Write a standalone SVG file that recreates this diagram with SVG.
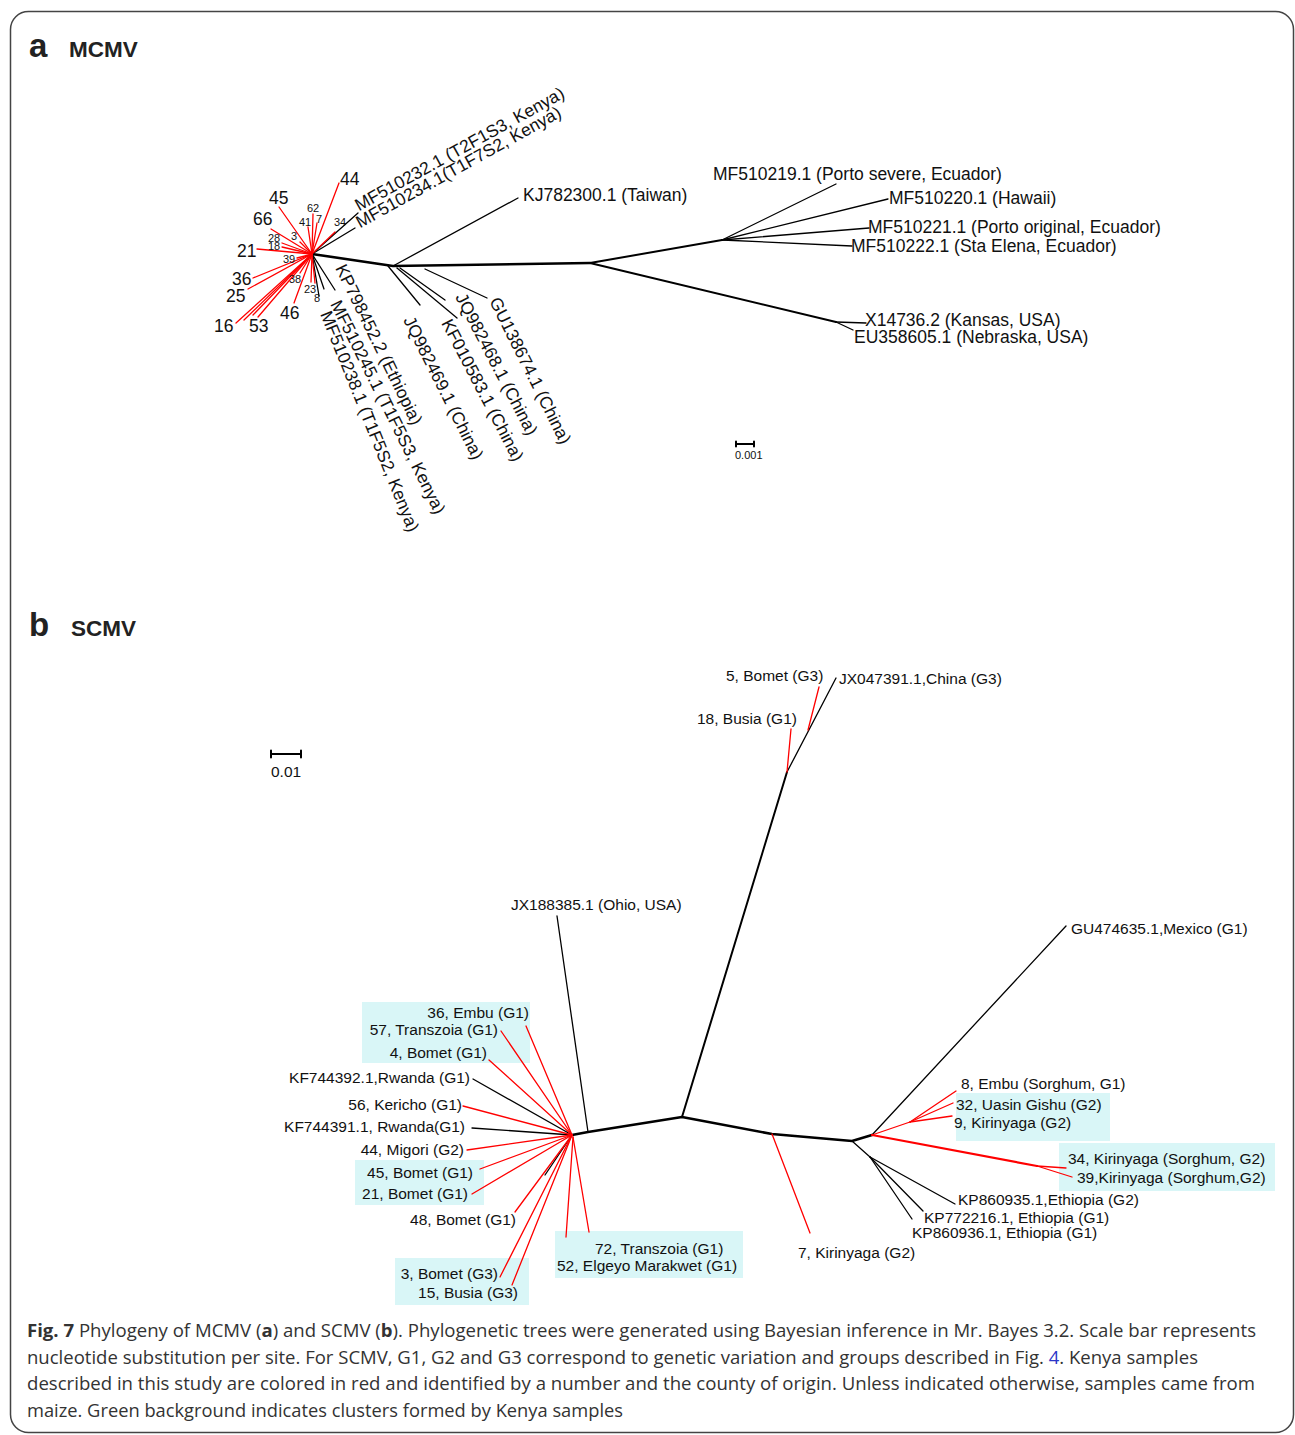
<svg xmlns="http://www.w3.org/2000/svg" width="1295" height="1435" viewBox="0 0 1295 1435">
<style>
.b{stroke:#000;stroke-width:1.3;fill:none;stroke-linecap:round}
.bt{stroke:#000;stroke-width:2.6;fill:none;stroke-linecap:round;stroke-linejoin:round}
.bm{stroke:#000;stroke-width:2;fill:none;stroke-linecap:round}
.r{stroke:#f00;stroke-width:1.3;fill:none;stroke-linecap:round}
.rt{stroke:#f00;stroke-width:2.2;fill:none;stroke-linecap:round}
text{font-family:"Liberation Sans",Arial,sans-serif;fill:#111}
.lm{font-size:17.5px}
.ls{font-size:15.5px}
.nb{font-size:17.5px}
.ns{font-size:11px}
.box{fill:#d9f6f7}
.cap{font-family:"Open Sans","Noto Sans",sans-serif;font-size:17.5px;fill:#333}
.pl{font-weight:bold;fill:#222}
</style>
<rect x="10.5" y="11.5" width="1283" height="1421" rx="18" fill="#fff" stroke="#444" stroke-width="1.5"/>

<!-- panel labels -->
<g id="panel-a"><text class="pl" x="29" y="57" font-size="33">a</text><text class="pl" x="69" y="57" font-size="22.5">MCMV</text></g>
<g id="panel-b"><text class="pl" x="29" y="636" font-size="33">b</text><text class="pl" x="71" y="636" font-size="22.5">SCMV</text></g>

<!-- ============ MCMV connectors ============ -->
<g id="mcmv-connectors">
  <polyline class="bt" points="312,254 393,266 590,263"/>
  <line class="bm" x1="590" y1="263" x2="722" y2="240"/>
  <line class="bm" x1="590" y1="263" x2="836" y2="322"/>
  <line class="b" x1="722" y1="240" x2="836" y2="184"/>
  <line class="b" x1="722" y1="240" x2="888" y2="199"/>
  <line class="b" x1="722" y1="240" x2="869" y2="228"/>
  <line class="b" x1="722" y1="240" x2="852" y2="246"/>
  <line class="b" x1="836" y1="322" x2="866" y2="323"/>
  <line class="b" x1="836" y1="322" x2="853" y2="330"/>
  <line class="b" x1="393" y1="266" x2="518" y2="198"/>
  <line class="b" x1="388" y1="266" x2="420" y2="305"/>
  <line class="b" x1="397" y1="268" x2="457" y2="318"/>
  <line class="b" x1="400" y1="268" x2="445" y2="300"/>
  <line class="b" x1="425" y1="269" x2="487" y2="298"/>
  <line class="b" x1="312" y1="254" x2="358" y2="213"/>
  <line class="b" x1="312" y1="254" x2="355" y2="228"/>
  <line class="b" x1="312" y1="254" x2="335" y2="290"/>
  <line class="b" x1="312" y1="254" x2="324" y2="289"/>
  <line class="b" x1="312" y1="254" x2="319" y2="296"/>
  <line class="r" x1="312" y1="254" x2="339" y2="183"/>
  <line class="r" x1="312" y1="254" x2="279" y2="207"/>
  <line class="r" x1="312" y1="254" x2="313" y2="214"/>
  <line class="r" x1="312" y1="254" x2="317" y2="223"/>
  <line class="r" x1="312" y1="254" x2="308" y2="227"/>
  <line class="r" x1="312" y1="254" x2="335" y2="232"/>
  <line class="r" x1="312" y1="254" x2="300" y2="242"/>
  <line class="r" x1="312" y1="254" x2="282" y2="243"/>
  <line class="r" x1="312" y1="254" x2="282" y2="247"/>
  <line class="r" x1="312" y1="254" x2="271" y2="229"/>
  <line class="r" x1="312" y1="254" x2="257" y2="249"/>
  <line class="r" x1="312" y1="254" x2="297" y2="258"/>
  <line class="r" x1="312" y1="254" x2="253" y2="278"/>
  <line class="r" x1="312" y1="254" x2="248" y2="289"/>
  <line class="r" x1="312" y1="254" x2="300" y2="273"/>
  <line class="r" x1="312" y1="254" x2="311" y2="282"/>
  <line class="r" x1="312" y1="254" x2="315" y2="283"/>
  <line class="r" x1="312" y1="254" x2="294" y2="303"/>
  <line class="r" x1="312" y1="254" x2="236" y2="323"/>
  <line class="r" x1="312" y1="254" x2="244" y2="320"/>
  <line class="r" x1="312" y1="254" x2="253" y2="315"/>
  <line class="r" x1="312" y1="254" x2="258" y2="317"/>
</g>

<!-- ============ MCMV nodes ============ -->
<g id="mcmv-kj782300"><text class="lm" x="523" y="201">KJ782300.1 (Taiwan)</text></g>
<g id="mcmv-mf510219"><text class="lm" x="713" y="180">MF510219.1 (Porto severe, Ecuador)</text></g>
<g id="mcmv-mf510220"><text class="lm" x="889" y="204">MF510220.1 (Hawaii)</text></g>
<g id="mcmv-mf510221"><text class="lm" x="868" y="233">MF510221.1 (Porto original, Ecuador)</text></g>
<g id="mcmv-mf510222"><text class="lm" x="851" y="252">MF510222.1 (Sta Elena, Ecuador)</text></g>
<g id="mcmv-x14736"><text class="lm" x="865" y="326">X14736.2 (Kansas, USA)</text></g>
<g id="mcmv-eu358605"><text class="lm" x="854" y="343">EU358605.1 (Nebraska, USA)</text></g>
<g id="mcmv-mf510232"><text class="lm" transform="translate(359,211.5) rotate(-29)">MF510232.1 (T2F1S3, Kenya)</text></g>
<g id="mcmv-mf510234"><text class="lm" transform="translate(360,228.5) rotate(-29)">MF510234.1(T1F7S2, Kenya)</text></g>
<g id="mcmv-kp798452"><text class="lm" transform="translate(335,268) rotate(64)">KP798452.2 (Ethiopia)</text></g>
<g id="mcmv-mf510245"><text class="lm" transform="translate(330,304) rotate(63.5)">MF510245.1 (T1F5S3, Kenya)</text></g>
<g id="mcmv-mf510238"><text class="lm" transform="translate(320,314) rotate(68)">MF510238.1 (T1F5S2, Kenya)</text></g>
<g id="mcmv-jq982469"><text class="lm" transform="translate(403,320) rotate(63.5)">JQ982469.1 (China)</text></g>
<g id="mcmv-kf010583"><text class="lm" transform="translate(441,323) rotate(62.5)">KF010583.1 (China)</text></g>
<g id="mcmv-jq982468"><text class="lm" transform="translate(455,297) rotate(62.5)">JQ982468.1 (China)</text></g>
<g id="mcmv-gu138674"><text class="lm" transform="translate(489,301) rotate(63.5)">GU138674.1 (China)</text></g>
<g id="mcmv-kenya-samples">
  <text class="nb" x="340" y="185">44</text>
  <text class="nb" x="269" y="204">45</text>
  <text class="nb" x="253" y="225">66</text>
  <text class="nb" x="237" y="257">21</text>
  <text class="nb" x="232" y="285">36</text>
  <text class="nb" x="226" y="302">25</text>
  <text class="nb" x="214" y="332">16</text>
  <text class="nb" x="249" y="332">53</text>
  <text class="nb" x="280" y="319">46</text>
  <text class="ns" x="307" y="212">62</text>
  <text class="ns" x="316" y="223">7</text>
  <text class="ns" x="299" y="226">41</text>
  <text class="ns" x="334" y="226">34</text>
  <text class="ns" x="291" y="240">3</text>
  <text class="ns" x="268" y="242">28</text>
  <text class="ns" x="268" y="250">18</text>
  <text class="ns" x="283" y="263">39</text>
  <text class="ns" x="289" y="283">38</text>
  <text class="ns" x="304" y="293">23</text>
  <text class="ns" x="314" y="302">8</text>
</g>
<g id="mcmv-scale">
  <path class="bm" d="M736,444H754M736,441.5V446.5M754,441.5V446.5" stroke-width="1.8"/>
  <text x="735" y="459" font-size="11">0.001</text>
</g>

<!-- ============ SCMV ============ -->
<g id="scmv-clusters">
  <rect class="box" x="362" y="1002" width="168" height="61"/>
  <rect class="box" x="355" y="1160" width="129" height="45"/>
  <rect class="box" x="395" y="1258" width="134" height="47"/>
  <rect class="box" x="555" y="1231" width="188" height="47"/>
  <rect class="box" x="956" y="1093" width="154" height="48"/>
  <rect class="box" x="1059" y="1143" width="216" height="48"/>
</g>
<g id="scmv-connectors">
  <polyline class="bt" points="572,1135 588,1132 682,1117 772,1134 852,1141 872,1135"/>
  <line class="bm" x1="682" y1="1117" x2="787" y2="772"/>
  <line class="b" x1="787" y1="772" x2="836" y2="678"/>
  <line class="r" x1="787" y1="772" x2="791" y2="729"/>
  <line class="r" x1="808" y1="730" x2="819" y2="687"/>
  <line class="b" x1="588" y1="1132" x2="557" y2="916"/>
  <line class="r" x1="772" y1="1134" x2="810" y2="1233"/>
  <line class="b" x1="872" y1="1135" x2="1066" y2="926"/>
  <line class="r" x1="872" y1="1135" x2="910" y2="1122"/>
  <line class="r" x1="910" y1="1122" x2="956" y2="1091"/>
  <line class="r" x1="910" y1="1122" x2="953" y2="1103"/>
  <line class="r" x1="910" y1="1122" x2="952" y2="1116"/>
  <line class="rt" x1="872" y1="1135" x2="1037" y2="1166"/>
  <line class="r" x1="1037" y1="1166" x2="1066" y2="1168"/>
  <line class="r" x1="1037" y1="1166" x2="1072" y2="1177"/>
  <line class="b" x1="852" y1="1141" x2="870" y2="1157"/>
  <line class="b" x1="870" y1="1157" x2="955" y2="1204"/>
  <line class="b" x1="870" y1="1157" x2="923" y2="1211"/>
  <line class="b" x1="870" y1="1157" x2="912" y2="1219"/>
  <line class="b" x1="572" y1="1135" x2="473" y2="1079"/>
  <line class="b" x1="572" y1="1135" x2="472" y2="1128"/>
  <line class="b" x1="572" y1="1135" x2="545" y2="1175"/>
  <line class="r" x1="572" y1="1135" x2="526" y2="1026"/>
  <line class="r" x1="572" y1="1135" x2="501" y2="1031"/>
  <line class="r" x1="572" y1="1135" x2="489" y2="1060"/>
  <line class="r" x1="572" y1="1135" x2="463" y2="1106"/>
  <line class="r" x1="572" y1="1135" x2="467" y2="1150"/>
  <line class="r" x1="572" y1="1135" x2="480" y2="1169"/>
  <line class="r" x1="572" y1="1135" x2="472" y2="1194"/>
  <line class="r" x1="572" y1="1135" x2="515" y2="1212"/>
  <line class="r" x1="572" y1="1135" x2="500" y2="1277"/>
  <line class="r" x1="572" y1="1135" x2="512" y2="1285"/>
  <line class="r" x1="573" y1="1137" x2="589" y2="1232"/>
  <line class="r" x1="573" y1="1137" x2="566" y2="1237"/>
</g>
<g id="scmv-5-bomet"><text class="ls" x="726" y="681">5, Bomet (G3)</text></g>
<g id="scmv-jx047391"><text class="ls" x="839" y="684">JX047391.1,China (G3)</text></g>
<g id="scmv-18-busia"><text class="ls" x="697" y="724">18, Busia (G1)</text></g>
<g id="scmv-jx188385"><text class="ls" x="511" y="910">JX188385.1 (Ohio, USA)</text></g>
<g id="scmv-gu474635"><text class="ls" x="1071" y="934">GU474635.1,Mexico (G1)</text></g>
<g id="scmv-36-embu"><text class="ls" x="529" y="1018" text-anchor="end">36, Embu (G1)</text></g>
<g id="scmv-57-transzoia"><text class="ls" x="498" y="1035" text-anchor="end">57, Transzoia (G1)</text></g>
<g id="scmv-4-bomet"><text class="ls" x="487" y="1058" text-anchor="end">4, Bomet (G1)</text></g>
<g id="scmv-kf744392"><text class="ls" x="470" y="1083" text-anchor="end">KF744392.1,Rwanda (G1)</text></g>
<g id="scmv-56-kericho"><text class="ls" x="462" y="1110" text-anchor="end">56, Kericho (G1)</text></g>
<g id="scmv-kf744391"><text class="ls" x="465" y="1132" text-anchor="end">KF744391.1, Rwanda(G1)</text></g>
<g id="scmv-44-migori"><text class="ls" x="464" y="1155" text-anchor="end">44, Migori (G2)</text></g>
<g id="scmv-45-bomet"><text class="ls" x="473" y="1178" text-anchor="end">45, Bomet (G1)</text></g>
<g id="scmv-21-bomet"><text class="ls" x="468" y="1199" text-anchor="end">21, Bomet (G1)</text></g>
<g id="scmv-48-bomet"><text class="ls" x="516" y="1225" text-anchor="end">48, Bomet (G1)</text></g>
<g id="scmv-3-bomet"><text class="ls" x="498" y="1279" text-anchor="end">3, Bomet (G3)</text></g>
<g id="scmv-15-busia"><text class="ls" x="518" y="1298" text-anchor="end">15, Busia (G3)</text></g>
<g id="scmv-72-transzoia"><text class="ls" x="595" y="1254">72, Transzoia (G1)</text></g>
<g id="scmv-52-elgeyo"><text class="ls" x="557" y="1271">52, Elgeyo Marakwet (G1)</text></g>
<g id="scmv-7-kirinyaga"><text class="ls" x="798" y="1258">7, Kirinyaga (G2)</text></g>
<g id="scmv-8-embu"><text class="ls" x="961" y="1089">8, Embu (Sorghum, G1)</text></g>
<g id="scmv-32-uasin"><text class="ls" x="956" y="1110">32, Uasin Gishu (G2)</text></g>
<g id="scmv-9-kirinyaga"><text class="ls" x="954" y="1128">9, Kirinyaga (G2)</text></g>
<g id="scmv-34-kirinyaga"><text class="ls" x="1068" y="1164">34, Kirinyaga (Sorghum, G2)</text></g>
<g id="scmv-39-kirinyaga"><text class="ls" x="1077" y="1183">39,Kirinyaga (Sorghum,G2)</text></g>
<g id="scmv-kp860935"><text class="ls" x="958" y="1205">KP860935.1,Ethiopia (G2)</text></g>
<g id="scmv-kp772216"><text class="ls" x="924" y="1223">KP772216.1, Ethiopia (G1)</text></g>
<g id="scmv-kp860936"><text class="ls" x="912" y="1238">KP860936.1, Ethiopia (G1)</text></g>
<g id="scmv-scale">
  <path class="bm" d="M271,754H301M271,750.5V757.5M301,750.5V757.5" stroke-width="1.8"/>
  <text class="ls" x="271" y="777">0.01</text>
</g>

<!-- caption -->
<g id="caption">
  <text class="cap" x="27" y="1337" textLength="1229" lengthAdjust="spacingAndGlyphs"><tspan font-weight="bold">Fig. 7</tspan> Phylogeny of MCMV (<tspan font-weight="bold">a</tspan>) and SCMV (<tspan font-weight="bold">b</tspan>). Phylogenetic trees were generated using Bayesian inference in Mr. Bayes 3.2. Scale bar represents</text>
  <text class="cap" x="27" y="1363.5" textLength="1171" lengthAdjust="spacingAndGlyphs">nucleotide substitution per site. For SCMV, G1, G2 and G3 correspond to genetic variation and groups described in Fig. <tspan fill="#2b35c8">4</tspan>. Kenya samples</text>
  <text class="cap" x="27" y="1390" textLength="1228" lengthAdjust="spacingAndGlyphs">described in this study are colored in red and identified by a number and the county of origin. Unless indicated otherwise, samples came from</text>
  <text class="cap" x="27" y="1416.5" textLength="596" lengthAdjust="spacingAndGlyphs">maize. Green background indicates clusters formed by Kenya samples</text>
</g>
</svg>
